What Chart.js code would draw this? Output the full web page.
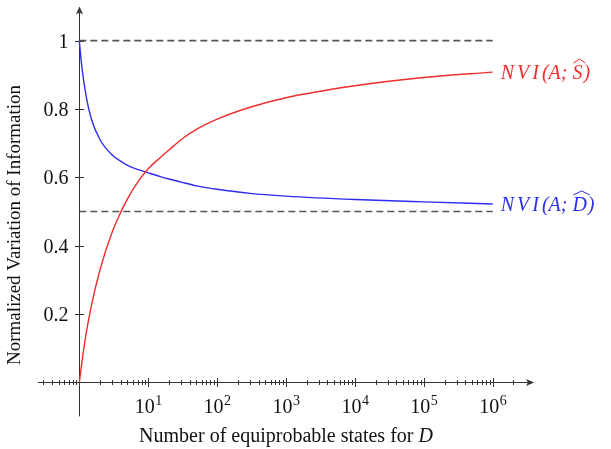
<!DOCTYPE html>
<html>
<head>
<meta charset="utf-8">
<script src="https://cdn.jsdelivr.net/npm/chart.js@4.4.1/dist/chart.umd.min.js"></script>
<style>
  html, body { margin: 0; padding: 0; background: #fff; }
  canvas { display: block; }
</style>
</head>
<body>
<canvas id="myChart" width="611" height="449"></canvas>
<script>
"use strict";

// number of equiprobable states for D (x) and the two NVI curves
const states = [1, 1.03, 1.1, 1.25, 1.5, 2, 3, 4, 5, 7, 10, 15, 20, 30, 50, 100, 300, 1000, 1e4, 1e5, 1e6];
const nviS = [0, 0.02, 0.065, 0.14, 0.225, 0.33, 0.44, 0.498, 0.537, 0.585, 0.625, 0.658, 0.68, 0.71, 0.74, 0.77, 0.805, 0.833, 0.868, 0.892, 0.908];
const nviD = [1, 0.97, 0.915, 0.84, 0.77, 0.71, 0.665, 0.647, 0.635, 0.623, 0.613, 0.602, 0.595, 0.586, 0.575, 0.565, 0.553, 0.545, 0.535, 0.528, 0.522];
const refLevels = [1, 0.5];
const xTickExps = [1, 2, 3, 4, 5, 6];
const yTicks = [0.2, 0.4, 0.6, 0.8, 1];

const RED = 'rgb(240,45,45)';
const BLUE = 'rgb(45,45,240)';
const SERIF = '"Liberation Serif", "Times New Roman", serif';

const toPoints = (ys) => states.map((s, i) => ({ x: s, y: ys[i] }));

function arrowHead(ctx, x, y, dir) {
    // dir: 'right' or 'up'
    ctx.save();
    ctx.translate(x, y);
    if (dir === 'up') ctx.rotate(-Math.PI / 2);
    ctx.beginPath();
    ctx.moveTo(0, 0);
    ctx.lineTo(-8, -3.6);
    ctx.lineTo(-6, 0);
    ctx.lineTo(-8, 3.6);
    ctx.closePath();
    ctx.fill();
    ctx.restore();
}

// draw text char by char with extra spacing, returns x positions of each char
function spacedText(ctx, text, x, y, spacing) {
    const pos = [];
    for (const ch of text) {
        pos.push(x);
        ctx.fillText(ch, x, y);
        x += ctx.measureText(ch).width + spacing;
    }
    return pos;
}

function curveLabel(ctx, x, y, letter, color) {
    ctx.save();
    ctx.fillStyle = color;
    ctx.strokeStyle = color;
    ctx.font = 'italic 20px ' + SERIF;
    ctx.textBaseline = 'alphabetic';
    const base = y + 7;
    let cx = x;
    const pos = spacedText(ctx, 'NVI', cx, base, 3);
    cx = pos[2] + ctx.measureText('I').width + 3;
    ctx.fillText('(A;', cx, base);
    cx += ctx.measureText('(A;').width + 5;
    ctx.fillText(letter, cx, base);
    const w = ctx.measureText(letter).width;
    // wide hat over the letter
    ctx.lineWidth = 1;
    ctx.beginPath();
    ctx.moveTo(cx + 1, base - 16);
    ctx.lineTo(cx + w / 2 + 2, base - 20);
    ctx.lineTo(cx + w + 3, base - 16);
    ctx.stroke();
    cx += w + 1;
    ctx.fillText(')', cx, base);
    ctx.restore();
}

const axesPlugin = {
    id: 'axesOverlay',
    beforeDatasetsDraw(chart) {
        const ctx = chart.ctx;
        const xs = chart.scales.x;
        const ys = chart.scales.y;
        const area = chart.chartArea;
        const x0 = Math.round(xs.getPixelForValue(1)) + 0.5;
        const y0 = Math.round(ys.getPixelForValue(0)) + 0.5;

        ctx.save();
        ctx.strokeStyle = '#333';
        ctx.fillStyle = '#333';
        ctx.lineWidth = 1;

        // axis lines
        ctx.beginPath();
        ctx.moveTo(area.left, y0);
        ctx.lineTo(area.right - 4, y0);
        ctx.moveTo(x0, area.bottom);
        ctx.lineTo(x0, area.top + 4);
        ctx.stroke();
        arrowHead(ctx, area.right, y0, 'right');
        arrowHead(ctx, x0, area.top, 'up');

        // x ticks
        ctx.beginPath();
        for (let d = -1; d <= 6; d++) {
            for (let m = 1; m <= 9; m++) {
                const v = m * Math.pow(10, d);
                if (v < xs.min || v > 2.5e6 || (m === 1 && d === 0)) continue;
                const px = Math.round(xs.getPixelForValue(v)) + 0.5;
                const len = m === 1 ? 4.5 : 2.5;
                ctx.moveTo(px, y0 - len);
                ctx.lineTo(px, y0 + len);
            }
        }
        // y ticks
        yTicks.forEach(t => {
            const py = Math.round(ys.getPixelForValue(t)) + 0.5;
            ctx.moveTo(x0 - 4.5, py);
            ctx.lineTo(x0 + 4.5, py);
        });
        ctx.stroke();

        // tick labels
        ctx.fillStyle = '#111';
        ctx.textBaseline = 'alphabetic';
        ctx.font = '20px ' + SERIF;
        ctx.textAlign = 'right';
        yTicks.forEach(t => {
            const py = ys.getPixelForValue(t);
            ctx.fillText(String(t), x0 - 11, py + 7);
        });
        ctx.textAlign = 'left';
        xTickExps.forEach(e => {
            const px = xs.getPixelForValue(Math.pow(10, e));
            ctx.font = '20px ' + SERIF;
            const wBase = ctx.measureText('10').width;
            ctx.font = '14px ' + SERIF;
            const wExp = ctx.measureText(String(e)).width;
            const left = px - (wBase + wExp) / 2;
            ctx.font = '20px ' + SERIF;
            ctx.fillText('10', left, 413);
            ctx.font = '14px ' + SERIF;
            ctx.fillText(String(e), left + wBase + 0.5, 405);
        });

        // axis titles
        const t1 = 'Number of equiprobable states for ';
        ctx.font = 'italic 20px ' + SERIF;
        const wD = ctx.measureText('D').width;
        ctx.font = '20px ' + SERIF;
        const w1 = ctx.measureText(t1).width;
        const cxT = (area.left + area.right) / 2;
        const startT = cxT - (w1 + wD) / 2;
        ctx.fillText(t1, startT, 442);
        ctx.font = 'italic 20px ' + SERIF;
        ctx.fillText('D', startT + w1, 442);

        ctx.translate(20, 225);
        ctx.rotate(-Math.PI / 2);
        ctx.font = '19px ' + SERIF;
        ctx.textAlign = 'center';
        ctx.fillText('Normalized Variation of Information', 0, 0);
        ctx.restore();
    },
    afterDatasetsDraw(chart) {
        const ctx = chart.ctx;
        const xs = chart.scales.x;
        const ys = chart.scales.y;
        const last = states.length - 1;
        const xe = xs.getPixelForValue(states[last]) + 8;
        curveLabel(ctx, xe, ys.getPixelForValue(nviS[last]), 'S', RED);
        curveLabel(ctx, xe, ys.getPixelForValue(nviD[last]), 'D', BLUE);
    }
};

const ctx = document.getElementById('myChart');

const refSets = refLevels.map(level => ({
    data: [{ x: 1, y: level }, { x: 1e6, y: level }],
    borderColor: '#555',
    borderWidth: 1.6,
    borderDash: [7, 4],
    pointRadius: 0
}));

const chart = new Chart(ctx, {
    type: 'line',
    data: {
        datasets: [
            ...refSets,
            {
                data: toPoints(nviS),
                borderColor: RED,
                borderWidth: 1.4,
                cubicInterpolationMode: 'monotone',
                pointRadius: 0
            },
            {
                data: toPoints(nviD),
                borderColor: BLUE,
                borderWidth: 1.4,
                cubicInterpolationMode: 'monotone',
                pointRadius: 0
            }
        ]
    },
    options: {
        responsive: false,
        animation: false,
        layout: {
            padding: { left: 38, right: 77, top: 6.5, bottom: 32.6 }
        },
        plugins: {
            legend: { display: false },
            tooltip: { enabled: false }
        },
        scales: {
            x: {
                type: 'logarithmic',
                display: false,
                bounds: 'data',
                min: Math.pow(10, -0.6),
                max: Math.pow(10, 6.6)
            },
            y: {
                type: 'linear',
                display: false,
                bounds: 'data',
                min: -0.1,
                max: 1.1
            }
        }
    },
    plugins: [axesPlugin]
});
</script>
</body>
</html>
